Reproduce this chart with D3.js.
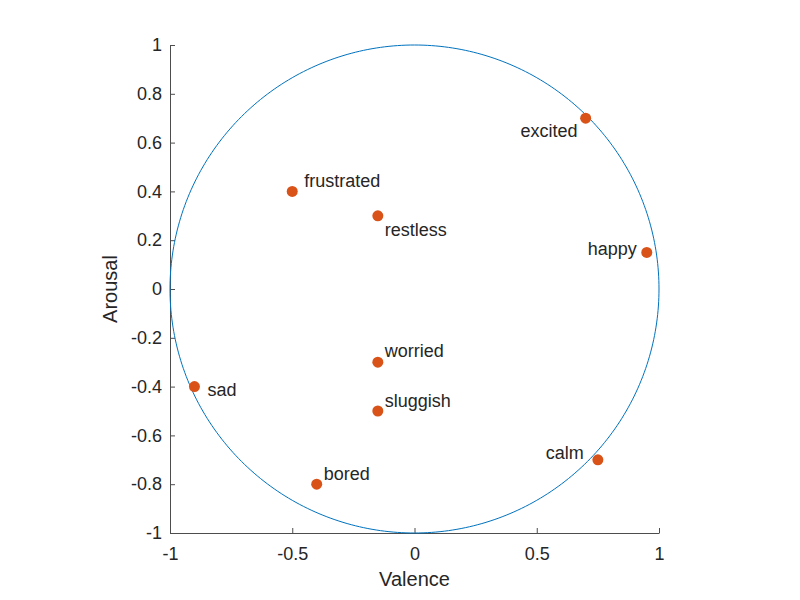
<!DOCTYPE html>
<html>
<head>
<meta charset="utf-8">
<script src="https://cdn.jsdelivr.net/npm/d3@7"></script>
<style>
  body { margin: 0; background: #fff; }
  text { font-family: "Liberation Sans", Arial, sans-serif; fill: #262626; }
</style>
</head>
<body>
<div id="chart"></div>
<script>
// emotion words on the valence / arousal plane
var words    = ['excited', 'happy', 'frustrated', 'restless', 'worried', 'sluggish', 'sad', 'bored', 'calm'];
var valence  = [0.70, 0.95, -0.50, -0.15, -0.15, -0.15, -0.90, -0.40, 0.75];
var arousal  = [0.70, 0.15, 0.40, 0.30, -0.30, -0.50, -0.40, -0.80, -0.70];
var ticksX   = [-1, -0.5, 0, 0.5, 1];
var ticksY   = [-1, -0.8, -0.6, -0.4, -0.2, 0, 0.2, 0.4, 0.6, 0.8, 1];

// label placement next to each dot (pixels, anchor)
var labelPos = [
  { dx: -8, dy: 19, anchor: 'end' },
  { dx: -10, dy: 3, anchor: 'end' },
  { dx: 12, dy: -4, anchor: 'start' },
  { dx: 7, dy: 20, anchor: 'start' },
  { dx: 7, dy: -5, anchor: 'start' },
  { dx: 7, dy: -4, anchor: 'start' },
  { dx: 13, dy: 9, anchor: 'start' },
  { dx: 7, dy: -4, anchor: 'start' },
  { dx: -14, dy: -1, anchor: 'end' }
];

var width = 800, height = 600;
var plotLeft = 170, plotRight = 659, plotTop = 45, plotBottom = 533;

var svg = d3.select('#chart').append('svg')
  .attr('width', width)
  .attr('height', height);

var x = d3.scaleLinear().domain([-1, 1]).range([plotLeft, plotRight]);
var y = d3.scaleLinear().domain([-1, 1]).range([plotBottom, plotTop]);

var axisColor = '#4d4d4d';
var fmt = function(d) { return String(d); };

var xAxis = svg.append('g')
  .attr('transform', 'translate(0,' + plotBottom + ')')
  .call(d3.axisBottom(x).tickValues(ticksX).tickSizeInner(-5).tickSizeOuter(0).tickPadding(14).tickFormat(fmt));

var yAxis = svg.append('g')
  .attr('transform', 'translate(' + plotLeft + ',0)')
  .call(d3.axisLeft(y).tickValues(ticksY).tickSizeInner(-5).tickSizeOuter(0).tickPadding(8).tickFormat(fmt));

[xAxis, yAxis].forEach(function(g) {
  g.select('.domain').attr('stroke', axisColor).attr('stroke-width', 1);
  g.selectAll('.tick line').attr('stroke', axisColor);
  g.selectAll('.tick text')
    .attr('fill', '#262626')
    .style('font-size', '18px')
    .style('font-family', '"Liberation Sans", Arial, sans-serif');
});

// unit circle
var circle = d3.range(0, 361).map(function(a) {
  var t = a * Math.PI / 180;
  return [Math.cos(t), Math.sin(t)];
});
svg.append('path')
  .datum(circle)
  .attr('fill', 'none')
  .attr('stroke', '#0072BD')
  .attr('stroke-width', 1)
  .attr('d', d3.line().x(function(d) { return x(d[0]); }).y(function(d) { return y(d[1]); }));

// dots
var pts = words.map(function(w, i) { return { word: w, v: valence[i], a: arousal[i], pos: labelPos[i] }; });

svg.append('g').selectAll('circle')
  .data(pts)
  .enter().append('circle')
    .attr('cx', function(d) { return x(d.v); })
    .attr('cy', function(d) { return y(d.a); })
    .attr('r', 5.5)
    .attr('fill', '#D95319');

svg.append('g').selectAll('text')
  .data(pts)
  .enter().append('text')
    .attr('x', function(d) { return x(d.v) + d.pos.dx; })
    .attr('y', function(d) { return y(d.a) + d.pos.dy; })
    .attr('text-anchor', function(d) { return d.pos.anchor; })
    .style('font-size', '18px')
    .text(function(d) { return d.word; });

// axis titles
svg.append('text')
  .attr('x', (plotLeft + plotRight) / 2)
  .attr('y', 586)
  .attr('text-anchor', 'middle')
  .style('font-size', '20px')
  .text('Valence');

svg.append('text')
  .attr('transform', 'translate(117,' + ((plotTop + plotBottom) / 2) + ') rotate(-90)')
  .attr('text-anchor', 'middle')
  .style('font-size', '20px')
  .text('Arousal');
</script>
</body>
</html>
